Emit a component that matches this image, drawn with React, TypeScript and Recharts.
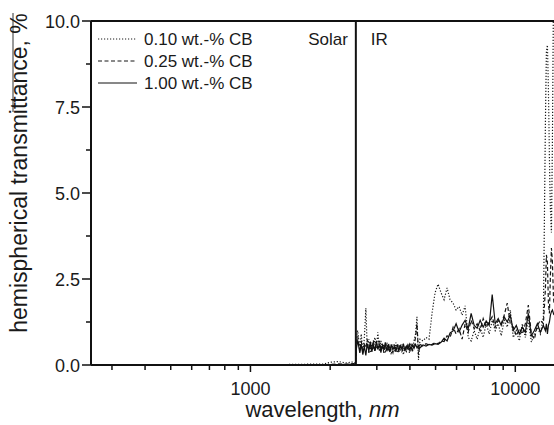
import React from 'react';
import { LineChart, Line, XAxis, YAxis, ReferenceLine, Legend } from 'recharts';

const FONT = '"Liberation Sans", Arial, sans-serif';
const INK = '#111';

// wavelength grid, nm
const wavelengths = [
  250, 500, 1000, 1900, 2000, 2150, 2300, 2450, 2495,
  2510, 2540, 2588, 2620, 2657, 2690, 2727, 2760, 2799, 2835,
  2873, 2910, 2949, 2990, 3027, 3070, 3108, 3150, 3190, 3230,
  3274, 3320, 3361, 3400, 3451, 3500, 3542, 3590, 3636, 3680,
  3733, 3780, 3831, 3880, 3933, 3985, 4037, 4090, 4144, 4200,
  4254, 4310, 4367,
  4482, 4601, 4723, 4848, 4977, 5109, 5244, 5383, 5526, 5672,
  5823, 5977, 6135, 6298, 6465, 6637, 6812, 6993, 7178, 7368,
  7564, 7764, 7970, 8181, 8398, 8620, 8849, 9083, 9324, 9571,
  9825, 10088, 10356, 10630, 10911, 11200, 11497, 11803, 12115, 12436,
  12766, 12990, 13104, 13220, 13335, 13452, 13570, 13690, 13809, 13930, 14000,
];

// hemispherical transmittance, %
const cb010 = [
  0, 0, 0, 0.03, 0.08, 0.1, 0.06, 0.09, 0.05,
  0.8, 1.0, 0.5, 0.9, 0.4, 0.75, 1.65, 0.5, 0.75, 0.35,
  0.65, 0.45, 0.8, 0.5, 0.95, 0.4, 0.7, 0.5, 0.6, 0.35,
  0.65, 0.45, 0.55, 0.3, 0.6, 0.4, 0.65, 0.35, 0.55, 0.45,
  0.6, 0.3, 0.5, 0.4, 0.6, 0.35, 0.55, 0.45, 0.7, 0.9,
  1.4, 0.15, 0.75,
  0.7, 0.8, 0.75, 1.5, 2.1, 2.35, 2.1, 1.9, 2.24, 1.9,
  1.8, 1.6, 1.7, 1.45, 1.72, 0.8, 0.7, 1.0, 0.75, 1.1,
  0.8, 1.2, 0.9, 1.3, 1.0, 1.2, 0.85, 1.3, 1.1, 1.6,
  0.8, 1.0, 0.7, 1.2, 0.8, 1.3, 0.67, 0.9, 1.1, 0.9,
  1.4, 7.0, 9.1, 9.3, 8.0, 6.0, 4.5, 3.85, 6.5, 10.5, 11,
];

const cb025 = [
  0, 0, 0, 0, 0.02, 0.03, 0.02, 0.04, 0.03,
  0.55, 0.85, 0.4, 0.7, 0.35, 0.6, 0.5, 0.75, 0.35, 0.6,
  0.45, 0.72, 0.38, 0.58, 0.5, 0.7, 0.42, 0.62, 0.35, 0.55,
  0.48, 0.64, 0.42, 0.5, 0.36, 0.6, 0.46, 0.52, 0.38, 0.62,
  0.4, 0.5, 0.55, 0.42, 0.58, 0.45, 0.62, 0.4, 0.55, 0.8,
  1.2, 0.3, 0.6,
  0.55, 0.62, 0.58, 0.6, 0.65, 0.62, 0.7, 0.68, 0.85, 0.8,
  1.1, 0.9, 1.05, 0.75, 1.2, 0.95, 1.3, 1.05, 1.2, 1.0,
  1.35, 1.1, 1.25, 1.4, 1.1, 1.3, 1.2, 1.45, 1.8, 1.2,
  1.1, 0.85, 1.05, 0.9, 1.2, 1.74, 0.9, 0.75, 1.15, 1.3,
  1.2, 2.2, 3.2, 3.0, 1.8, 1.5, 2.6, 3.4, 3.0, 2.0, 1.8,
];

const cb100 = [
  0, 0, 0, 0, 0, 0.01, 0.02, 0.02, 0.03,
  0.45, 0.72, 0.35, 0.6, 0.3, 0.55, 0.28, 0.62, 0.4, 0.68,
  0.38, 0.6, 0.42, 0.7, 0.45, 0.62, 0.36, 0.58, 0.44, 0.66,
  0.4, 0.55, 0.38, 0.6, 0.45, 0.52, 0.38, 0.6, 0.42, 0.55,
  0.45, 0.62, 0.4, 0.55, 0.46, 0.6, 0.44, 0.58, 0.48, 0.6,
  0.5, 0.56, 0.5,
  0.58, 0.55, 0.6, 0.58, 0.62, 0.6, 0.66, 0.78, 0.7, 0.93,
  0.99, 1.2, 0.96, 1.16, 1.3, 1.05, 1.5, 1.15, 1.07, 1.3,
  1.1, 1.28, 1.15, 2.05, 1.2, 1.35, 1.15, 1.4, 1.25, 1.45,
  1.0, 1.15, 0.9, 1.1, 0.95, 1.5, 0.85, 1.0, 1.2, 0.95,
  1.15, 1.0, 1.2, 0.9, 1.15, 1.25, 1.45, 1.55, 1.6, 1.5, 1.45,
];

const xMajorTicks = [1000, 10000];
const xMinorTicks = [300, 400, 500, 600, 700, 800, 900, 2000, 3000, 4000, 5000, 6000, 7000, 8000, 9000];
const yMajorTicks = [0, 2.5, 5, 7.5, 10];
const yMinorTicks = [1.25, 3.75, 6.25, 8.75];

const solarEdge = 2500;

const series = [
  { key: 'cb010', name: '0.10 wt.-% CB', dash: '1.2 1.8', color: '#1a1a1a' },
  { key: 'cb025', name: '0.25 wt.-% CB', dash: '4 2.5', color: '#151515' },
  { key: 'cb100', name: '1.00 wt.-% CB', dash: undefined, color: INK },
];

const data = wavelengths.map((w, i) => ({
  w,
  cb010: cb010[i],
  cb025: cb025[i],
  cb100: cb100[i],
}));

const XTick = (props: any) => {
  const { x, y, payload } = props;
  const major = xMajorTicks.includes(payload.value);
  return (
    <g>
      <line x1={x} x2={x} y1={y} y2={y + (major ? 7 : 5)} stroke={INK} strokeWidth={1.5} />
      {major && (
        <text x={x} y={y + 30} textAnchor="middle" fontSize={18} fontFamily={FONT} fill="#1a1a1a">
          {payload.value}
        </text>
      )}
    </g>
  );
};

const YTick = (props: any) => {
  const { x, y, payload } = props;
  const major = yMajorTicks.includes(payload.value);
  return (
    <g>
      <line x1={x - (major ? 9 : 5)} x2={x} y1={y} y2={y} stroke={INK} strokeWidth={1.5} />
      {major && (
        <text x={x - 11} y={y + 6.5} textAnchor="end" fontSize={18} fontFamily={FONT} fill="#1a1a1a">
          {payload.value.toFixed(1)}
        </text>
      )}
    </g>
  );
};

const XTitle = (props: any) => {
  const { viewBox } = props;
  const cx = viewBox.x + viewBox.width / 2;
  return (
    <text x={cx} y={viewBox.y + 52} textAnchor="middle" fontSize={22} fontFamily={FONT} fill="#1a1a1a">
      wavelength, <tspan fontStyle="italic">nm</tspan>
    </text>
  );
};

const YTitle = () => (
  <g>
    <line x1={13} x2={13} y1={13} y2={112} stroke="#333" strokeWidth={1} />
    <text
      x={0}
      y={0}
      transform="translate(27 173) rotate(-90)"
      textAnchor="middle"
      fontSize={23}
      fontFamily={FONT}
      fill="#1a1a1a"
    >
      hemispherical transmittance, %
    </text>
  </g>
);

const RegionLabels = (props: any) => {
  const { viewBox } = props;
  const x = viewBox.x;
  const y = viewBox.y;
  return (
    <g fontSize={17} fontFamily={FONT} fill="#1a1a1a">
      <text x={x - 8} y={y + 24} textAnchor="end">Solar</text>
      <text x={x + 15} y={y + 24} textAnchor="start">IR</text>
    </g>
  );
};

const LegendBox = () => (
  <svg width={200} height={70}>
    {series.map((s, i) => (
      <g key={s.key}>
        <line
          x1={3}
          x2={42}
          y1={11 + i * 22}
          y2={11 + i * 22}
          stroke={s.color}
          strokeWidth={1}
          strokeDasharray={s.dash}
        />
        <text x={49} y={17 + i * 22} fontSize={17} fontFamily={FONT} fill="#1a1a1a">
          {s.name}
        </text>
      </g>
    ))}
  </svg>
);

export default function App() {
  return (
    <div style={{ position: 'absolute', left: 0, top: 0, width: 554, height: 425, background: '#fff', fontFamily: FONT }}>
      <LineChart width={554} height={425} data={data} margin={{ top: 21, right: 0, left: 0, bottom: 0 }}>
        <XAxis
          dataKey="w"
          type="number"
          scale="log"
          domain={[250, 14000]}
          allowDataOverflow
          ticks={[...xMinorTicks, ...xMajorTicks].sort((a, b) => a - b)}
          interval={0}
          tickSize={0}
          tickMargin={0}
          tickLine={false}
          tick={XTick}
          height={60}
          axisLine={{ stroke: INK, strokeWidth: 2 }}
          label={XTitle}
        />
        <YAxis
          type="number"
          domain={[0, 10]}
          allowDataOverflow
          ticks={[...yMajorTicks, ...yMinorTicks].sort((a, b) => a - b)}
          interval={0}
          tickSize={0}
          tickMargin={0}
          tickLine={false}
          tick={YTick}
          width={91}
          axisLine={{ stroke: INK, strokeWidth: 2 }}
          label={YTitle}
        />
        <ReferenceLine y={10} stroke={INK} strokeWidth={2} />
        <ReferenceLine x={solarEdge} stroke={INK} strokeWidth={2} label={RegionLabels} />
        <Legend
          layout="vertical"
          align="center"
          verticalAlign="middle"
          wrapperStyle={{ left: 95, top: 28, width: 200 }}
          content={LegendBox}
        />
        {series.map((s) => (
          <Line
            key={s.key}
            dataKey={s.key}
            name={s.name}
            type="linear"
            stroke={s.color}
            strokeWidth={1.2}
            strokeDasharray={s.dash}
            dot={false}
            activeDot={false}
            isAnimationActive={false}
          />
        ))}
      </LineChart>
    </div>
  );
}
